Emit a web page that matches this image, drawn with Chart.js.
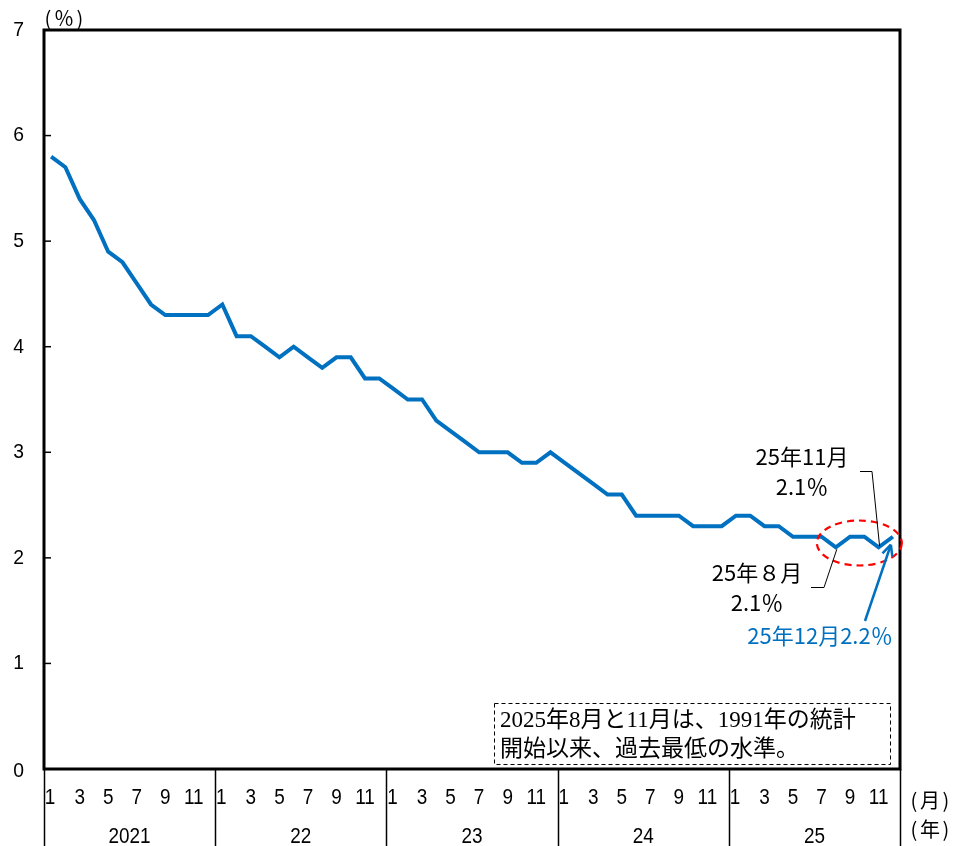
<!DOCTYPE html>
<html>
<head>
<meta charset="utf-8">
<script src="https://cdn.jsdelivr.net/npm/chart.js@4"></script>
<style>
  html, body { margin: 0; padding: 0; background: #fff; }
  #wrap { width: 953px; height: 846px; position: relative; }
</style>
</head>
<body>
<div id="wrap"><canvas id="c" width="953" height="846"></canvas></div>
<script>
// Monthly rate (%), January 2021 – December 2025
const monthLabels = [1,2,3,4,5,6,7,8,9,10,11,12, 1,2,3,4,5,6,7,8,9,10,11,12,
                     1,2,3,4,5,6,7,8,9,10,11,12, 1,2,3,4,5,6,7,8,9,10,11,12,
                     1,2,3,4,5,6,7,8,9,10,11,12];
const yearLabels = ['2021', '22', '23', '24', '25'];
const rate = [
  5.8, 5.7, 5.4, 5.2, 4.9, 4.8, 4.6, 4.4, 4.3, 4.3, 4.3, 4.3,
  4.4, 4.1, 4.1, 4.0, 3.9, 4.0, 3.9, 3.8, 3.9, 3.9, 3.7, 3.7,
  3.6, 3.5, 3.5, 3.3, 3.2, 3.1, 3.0, 3.0, 3.0, 2.9, 2.9, 3.0,
  2.9, 2.8, 2.7, 2.6, 2.6, 2.4, 2.4, 2.4, 2.4, 2.3, 2.3, 2.3,
  2.4, 2.4, 2.3, 2.3, 2.2, 2.2, 2.2, 2.1, 2.2, 2.2, 2.1, 2.2
];
const yTicks = [0, 1, 2, 3, 4, 5, 6, 7];
const noteLines = ['2025年8月と11月は、1991年の統計', '開始以来、過去最低の水準。'];

const BLUE = '#0070C0';
const SANS = "'Liberation Sans', Arial, sans-serif";
const GOTHIC = "'Noto Sans CJK JP', sans-serif";
const SERIF = "'Liberation Serif', 'Noto Sans CJK JP', serif";

const idxAug = 55, idxNov = 58, idxDec = 59;

// draws slightly condensed axis digits
function narrowText(ctx, text, x, y, size, squeeze) {
  ctx.save();
  ctx.font = size + 'px ' + SANS;
  ctx.translate(x, y);
  ctx.scale(squeeze, 1);
  ctx.textAlign = 'center';
  ctx.textBaseline = 'middle';
  ctx.fillText(text, 0, 0);
  ctx.restore();
}

// parenthesised unit label such as （%）
function unitLabel(ctx, inner, cx, cy) {
  ctx.save();
  ctx.font = '20px ' + GOTHIC;
  ctx.textAlign = 'center';
  ctx.textBaseline = 'middle';
  ctx.fillText('(', cx - 16, cy);
  ctx.fillText(inner, cx, cy);
  ctx.fillText(')', cx + 16, cy);
  ctx.restore();
}

const decorations = {
  id: 'decorations',
  afterDraw(chart) {
    const ctx = chart.ctx;
    const a = chart.chartArea;
    const xs = chart.scales.x, ys = chart.scales.y;
    ctx.save();
    ctx.fillStyle = '#000';
    ctx.strokeStyle = '#000';

    // inward tick marks and y labels
    ctx.lineWidth = 1.5;
    yTicks.forEach(v => {
      const y = ys.getPixelForValue(v);
      ctx.beginPath(); ctx.moveTo(a.left, y); ctx.lineTo(a.left + 7, y); ctx.stroke();
      narrowText(ctx, String(v), 18.5, v === 0 ? y + 2 : y, 21, 0.92);
    });

    // month labels (odd months)
    monthLabels.forEach((m, i) => {
      if (m % 2 === 1) narrowText(ctx, String(m), xs.getPixelForValue(i) - (m === 1 ? 1 : 0), a.bottom + 29, 22, 0.86);
    });

    // year separators and labels
    ctx.lineWidth = 1.5;
    const step = (xs.getPixelForValue(1) - xs.getPixelForValue(0));
    for (let k = 0; k <= yearLabels.length; k++) {
      const x = xs.getPixelForValue(k * 12) - step / 2;
      ctx.beginPath(); ctx.moveTo(Math.round(x) + 0.5, a.bottom); ctx.lineTo(Math.round(x) + 0.5, 846); ctx.stroke();
    }
    yearLabels.forEach((yl, k) => {
      const x = (xs.getPixelForValue(k * 12) + xs.getPixelForValue(k * 12 + 11)) / 2;
      narrowText(ctx, yl, x, a.bottom + 68, 22, 0.86);
    });

    // unit labels
    unitLabel(ctx, '％', 64, 18);
    unitLabel(ctx, '月', 930, 800);
    unitLabel(ctx, '年', 930, 829);

    // plot frame
    ctx.lineWidth = 3;
    ctx.strokeRect(a.left, a.top, a.right - a.left, a.bottom - a.top);

    // note box
    ctx.fillStyle = '#fff';
    ctx.fillRect(494, 703, 397, 62);
    ctx.setLineDash([4, 3]);
    ctx.lineWidth = 1;
    ctx.strokeRect(494.5, 703.5, 396, 61);
    ctx.setLineDash([]);
    ctx.fillStyle = '#000';
    ctx.font = '23px ' + SERIF;
    ctx.textAlign = 'left';
    ctx.textBaseline = 'middle';
    ctx.fillText(noteLines[0], 500, 721);
    ctx.fillText(noteLines[1], 500, 750);

    // dashed ellipse around the latest months
    const ex = xs.getPixelForValue(57) - 5;
    const ey = ys.getPixelForValue(2.15) + 1;
    ctx.strokeStyle = '#FF0000';
    ctx.lineWidth = 2.2;
    ctx.setLineDash([7, 5]);
    ctx.beginPath();
    ctx.ellipse(ex, ey, 42.5, 22.5, 0, 0, Math.PI * 2);
    ctx.stroke();
    ctx.setLineDash([]);

    // leader lines
    ctx.strokeStyle = '#000';
    ctx.lineWidth = 1;
    const pN = { x: xs.getPixelForValue(idxNov), y: ys.getPixelForValue(rate[idxNov]) };
    ctx.beginPath(); ctx.moveTo(860, 471.5); ctx.lineTo(872, 471.5); ctx.lineTo(pN.x + 1, pN.y - 1); ctx.stroke();
    const pA = { x: xs.getPixelForValue(idxAug), y: ys.getPixelForValue(rate[idxAug]) };
    ctx.beginPath(); ctx.moveTo(811, 587.5); ctx.lineTo(824, 587.5); ctx.lineTo(pA.x + 1, pA.y + 2); ctx.stroke();

    // blue arrow to the latest value
    const pD = { x: xs.getPixelForValue(idxDec), y: ys.getPixelForValue(rate[idxDec]) };
    const tip = { x: pD.x - 2, y: pD.y + 8 };
    const tail = { x: 865, y: 621 };
    ctx.strokeStyle = BLUE;
    ctx.fillStyle = BLUE;
    ctx.lineWidth = 2.5;
    ctx.beginPath(); ctx.moveTo(tail.x, tail.y); ctx.lineTo(tip.x, tip.y); ctx.stroke();
    const ang = Math.atan2(tip.y - tail.y, tip.x - tail.x);
    ctx.beginPath();
    ctx.moveTo(tip.x, tip.y);
    ctx.lineTo(tip.x - 12 * Math.cos(ang - 0.45), tip.y - 12 * Math.sin(ang - 0.45));
    ctx.moveTo(tip.x, tip.y);
    ctx.lineTo(tip.x - 12 * Math.cos(ang + 0.45), tip.y - 12 * Math.sin(ang + 0.45));
    ctx.stroke();

    // annotation texts
    ctx.textAlign = 'center';
    ctx.textBaseline = 'middle';
    ctx.font = '22px ' + GOTHIC;
    ctx.fillStyle = '#000';
    ctx.fillText('25年11月', 802, 457);
    ctx.fillText('2.1％', 802, 487);
    ctx.fillText('25年８月', 757, 573);
    ctx.fillText('2.1％', 757, 603);
    ctx.fillStyle = BLUE;
    ctx.fillText('25年12月2.2％', 820, 636);

    ctx.restore();
  }
};

new Chart(document.getElementById('c'), {
  type: 'line',
  data: {
    labels: monthLabels.map(String),
    datasets: [{
      data: rate,
      borderColor: BLUE,
      borderWidth: 4,
      pointRadius: 0,
      tension: 0,
      fill: false
    }]
  },
  options: {
    responsive: false,
    animation: false,
    devicePixelRatio: 1,
    layout: { padding: { left: 44, right: 53, top: 30, bottom: 77 } },
    plugins: { legend: { display: false }, tooltip: { enabled: false } },
    scales: {
      x: { display: false, offset: true },
      y: { display: false, min: 0, max: 7 }
    }
  },
  plugins: [decorations]
});
</script>
</body>
</html>
